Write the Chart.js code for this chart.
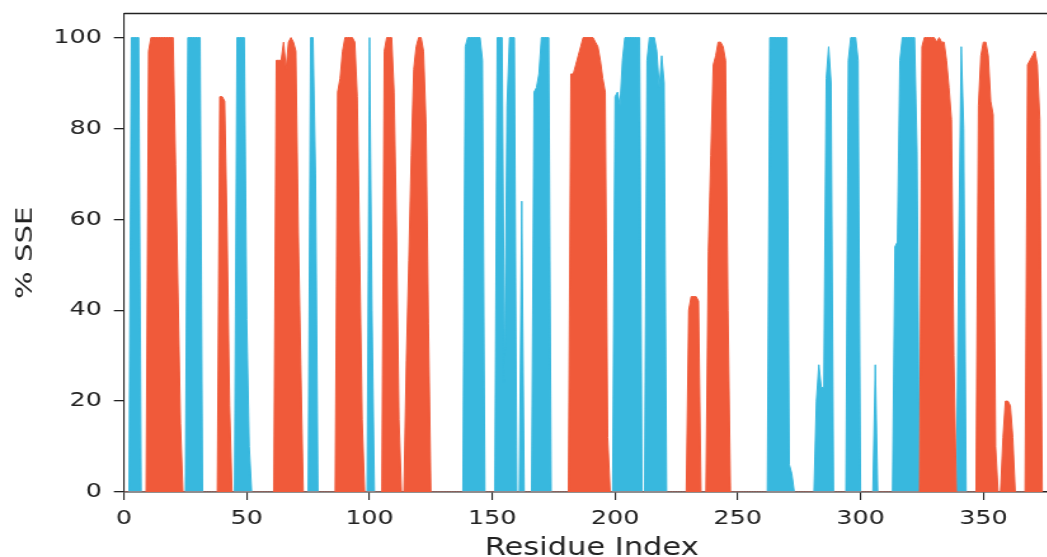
<!DOCTYPE html>
<html><head><meta charset="utf-8">
<script src="https://cdn.jsdelivr.net/npm/chart.js@4.4.1/dist/chart.umd.min.js"></script>
<style>
html,body{margin:0;padding:0;background:#fff;overflow:hidden;width:1047px;height:557px;}
#wrap{position:absolute;left:0;top:0;width:836px;height:557px;transform:scaleX(1.27);transform-origin:0 0;}
canvas{display:block;}
</style></head><body>
<div id="wrap"><canvas id="c" width="836" height="557" style="width:836px;height:557px"></canvas></div>
<script>
// Residue index 0..374 (categories)
const residueIndex = Array.from({length: 375}, (_, i) => i);

// % SSE, alpha helix (orange), one value per residue
const helixPct = [
  0,0,0,0,0, 0,0,0,0,0, 97,100,100,100,100, 100,100,100,100,100, 100,72,44,15,0,
  0,0,0,0,0, 0,0,0,0,0, 0,0,0,0,87, 87,86,57,19,0, 0,0,0,0,0,
  0,0,0,0,0, 0,0,0,0,0, 0,0,95,95,95, 99,93,99,100,99, 97,57,28,0,0,
  0,0,0,0,0, 0,0,0,0,0, 0,0,88,91,97, 100,100,100,100,99, 87,52,16,0,0,
  0,0,0,0,0, 0,97,100,100,100, 88,57,16,0,0, 29,51,74,93,98, 100,100,97,81,37,
  0,0,0,0,0, 0,0,0,0,0, 0,0,0,0,0, 0,0,0,0,0, 0,0,0,0,0,
  0,0,0,0,0, 0,0,0,0,0, 0,0,0,0,0, 0,0,0,0,0, 0,0,0,0,0,
  0,0,0,0,0, 0,0,92,92,94, 96,98,100,100,100, 100,100,99,98,95, 91,88,12,0,0,
  0,0,0,0,0, 0,0,0,0,0, 0,0,0,0,0, 0,0,0,0,0, 0,0,0,0,0,
  0,0,0,0,0, 40,43,43,43,42, 0,0,0,53,74, 94,96,99,99,98, 95,40,0,0,0,
  0,0,0,0,0, 0,0,0,0,0, 0,0,0,0,0, 0,0,0,0,0, 0,0,0,0,0,
  0,0,0,0,0, 0,0,0,0,0, 0,0,0,0,0, 0,0,0,0,0, 0,0,0,0,0,
  0,0,0,0,0, 0,0,0,0,0, 0,0,0,0,0, 0,0,0,0,0, 0,0,0,0,0,
  98,100,100,100,100, 100,99,100,99,99, 95,89,82,30,0, 0,0,0,0,0, 0,0,0,85,96,
  99,99,96,86,83, 10,0,0,12,20, 20,19,12,0,0, 0,0,0,94,95, 96,97,94,82,0
];

// % SSE, beta strand (blue), one value per residue
const strandPct = [
  0,0,0,100,100, 100,100,0,0,0, 0,0,0,0,0, 0,0,0,0,0, 0,0,0,0,0,
  0,100,100,100,100, 100,100,0,0,0, 0,0,0,0,0, 0,0,0,0,0, 0,100,100,100,100,
  38,10,0,0,0, 0,0,0,0,0, 0,0,0,0,0, 0,0,0,0,0, 0,0,0,0,0,
  0,100,100,70,0, 0,0,0,0,0, 0,0,0,0,0, 0,0,0,0,0, 0,0,0,0,0,
  100,40,0,0,0, 0,0,0,0,0, 0,0,0,0,0, 0,0,0,0,0, 0,0,0,0,0,
  0,0,0,0,0, 0,0,0,0,0, 0,0,0,0,98, 100,100,100,100,100, 100,95,0,0,0,
  0,0,100,100,100, 24,85,100,100,100, 0,0,64,0,0, 0,0,88,89,92, 100,100,100,100,0,
  0,0,0,0,0, 0,0,0,0,0, 0,0,0,0,0, 0,0,0,0,0, 0,0,0,0,0,
  87,88,85,95,100, 100,100,100,100,100, 100,0,0,95,100, 100,100,97,89,96, 90,0,0,0,0,
  0,0,0,0,0, 0,0,0,0,0, 0,0,0,0,0, 0,0,0,0,0, 0,0,0,0,0,
  0,0,0,0,0, 0,0,0,0,0, 0,0,0,100,100, 100,100,100,100,100, 100,6,4,0,0,
  0,0,0,0,0, 0,0,20,28,23, 23,91,98,90,0, 0,0,0,0,0, 95,100,100,100,95,
  0,0,0,0,0, 0,28,0,0,0, 0,0,0,0,54, 55,95,100,100,100, 100,100,100,75,0,
  0,0,0,0,0, 0,0,0,0,0, 0,0,0,0,0, 55,98,80,0,0, 0,0,0,0,0,
  0,0,0,0,0, 0,0,0,0,0, 0,0,0,0,0, 0,0,0,0,0, 0,0,0,0,0
];

const xTicks = [0, 50, 100, 150, 200, 250, 300, 350];
const yTicks = [0, 20, 40, 60, 80, 100];
const xTitle = 'Residue Index';
const yTitle = '% SSE';

const STRETCH = 1.27;
const HELIX_COLOR = '#F05A3A';
const STRAND_COLOR = '#38B8DE';
const INK = '#222222';
const FONT = 'DejaVu Sans';

const frameAndYTitle = {
  id: 'frameAndYTitle',
  afterDraw(chart) {
    const {ctx, chartArea} = chart;
    ctx.save();
    ctx.strokeStyle = INK;
    ctx.lineWidth = 1.3;
    ctx.beginPath();
    ctx.moveTo(chartArea.left, chartArea.top);
    ctx.lineTo(chartArea.right + 5, chartArea.top);
    ctx.stroke();
    ctx.restore();

    // y-axis title (stretched along its text direction like the rest of the figure)
    ctx.save();
    ctx.translate(31.7 / STRETCH, (chartArea.top + chartArea.bottom) / 2);
    ctx.scale(1 / STRETCH, 1);
    ctx.rotate(-Math.PI / 2);
    ctx.scale(STRETCH, 1);
    ctx.font = '23px "' + FONT + '"';
    ctx.fillStyle = INK;
    ctx.textAlign = 'center';
    ctx.textBaseline = 'alphabetic';
    ctx.fillText(yTitle, 0, 0);
    ctx.restore();
  }
};

new Chart(document.getElementById('c'), {
  type: 'line',
  data: {
    datasets: [
      {
        label: 'Alpha helix',
        data: residueIndex.map((r, i) => ({x: r, y: helixPct[i]})),
        borderColor: HELIX_COLOR,
        backgroundColor: HELIX_COLOR,
        borderWidth: 1,
        fill: 'origin',
        pointRadius: 0,
        tension: 0
      },
      {
        label: 'Beta strand',
        data: residueIndex.map((r, i) => ({x: r, y: strandPct[i]})),
        borderColor: STRAND_COLOR,
        backgroundColor: STRAND_COLOR,
        borderWidth: 1,
        fill: 'origin',
        pointRadius: 0,
        tension: 0
      }
    ]
  },
  options: {
    responsive: false,
    animation: false,
    devicePixelRatio: 1,
    layout: {padding: {top: 13.5, right: 1.8, bottom: 0, left: 0}},
    plugins: {legend: {display: false}, tooltip: {enabled: false}},
    scales: {
      x: {
        type: 'linear', min: 0, max: 381,
        afterBuildTicks(scale) { scale.ticks = xTicks.map(v => ({value: v})); },
        ticks: {font: {family: FONT, size: 20}, color: INK, padding: 6.5, maxRotation: 0, autoSkip: false},
        grid: {drawOnChartArea: false, drawTicks: true, tickLength: 8, color: INK, lineWidth: 1.1},
        border: {display: true, color: INK, width: 1.4},
        title: {display: true, text: xTitle, font: {family: FONT, size: 24}, color: INK, padding: {top: 0, bottom: -6}},
        afterFit(scale) { scale.height = 65; scale.paddingLeft = 0; scale.paddingRight = 0; }
      },
      y: {
        type: 'linear', min: 0, max: 105.3,
        afterBuildTicks(scale) { scale.ticks = yTicks.map(v => ({value: v})); },
        ticks: {font: {family: FONT, size: 20}, color: INK, padding: 9.5},
        grid: {drawOnChartArea: false, drawTicks: true, tickLength: 8, color: INK, lineWidth: 1.3},
        border: {display: true, color: INK, width: 1.1},
        title: {display: false, text: yTitle},
        afterFit(scale) { scale.width = 97.64; scale.paddingTop = 0; scale.paddingBottom = 0; }
      }
    }
  },
  plugins: [frameAndYTitle]
});
</script>
</body></html>
